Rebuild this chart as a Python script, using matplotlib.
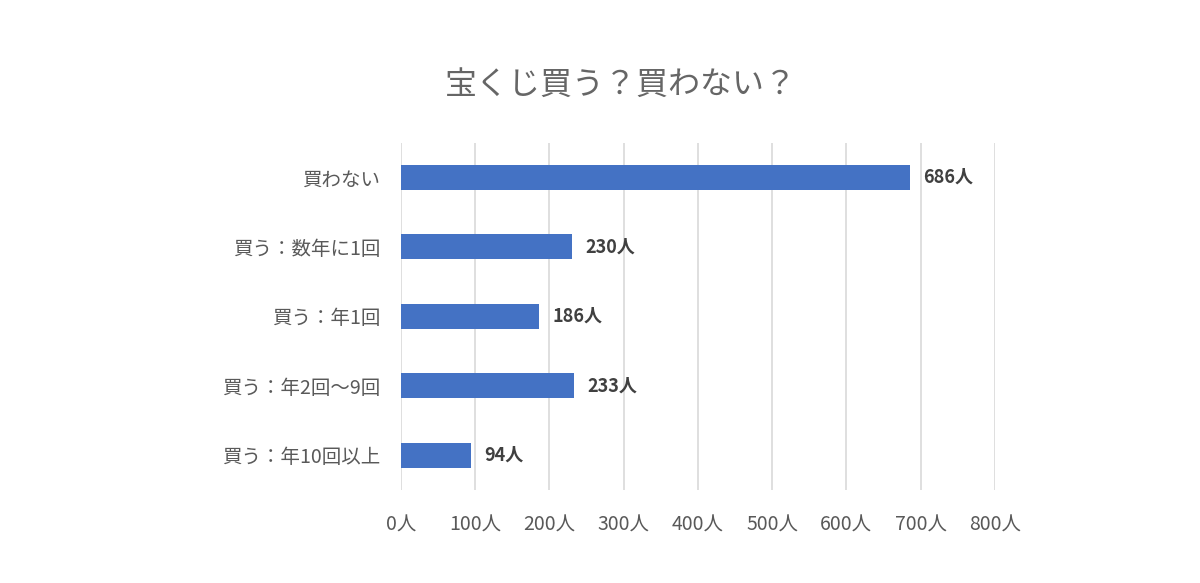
import matplotlib.pyplot as plt

plt.rcParams['font.family'] = ['Noto Sans CJK JP', 'DejaVu Sans']

categories = ["買わない", "買う：数年に1回", "買う：年1回", "買う：年2回～9回", "買う：年10回以上"]
counts = [686, 230, 186, 233, 94]
xticks = [0, 100, 200, 300, 400, 500, 600, 700, 800]

fig = plt.figure(figsize=(12, 5.83), dpi=100)
ax = fig.add_axes([0.334, 0.160, 0.495, 0.595])

ypos = list(range(len(categories)))
ax.barh(ypos, counts, height=0.36, color="#4472C4", zorder=3)

for y, v in zip(ypos, counts):
    ax.text(v + 18, y, f"{v}人", va="center", ha="left",
            fontsize=13, color="#404040", fontweight="bold")

ax.set_xlim(0, 800)
ax.set_ylim(len(categories) - 0.5, -0.5)
ax.set_yticks(ypos)
ax.set_yticklabels(categories)
ax.set_xticks(xticks)
ax.set_xticklabels([f"{t}人" for t in xticks])

ax.tick_params(axis="y", length=0, pad=15, labelsize=14, labelcolor="#595959")
ax.tick_params(axis="x", length=0, pad=18, labelsize=14, labelcolor="#595959")

ax.grid(axis="x", color="#d9d9d9", linewidth=1.2, zorder=0)
for s in ax.spines.values():
    s.set_visible(False)

fig.text(0.517, 0.855, "宝くじ買う？買わない？", ha="center", va="center",
         fontsize=23, color="#666666")

fig.savefig("out.png", dpi=100)
